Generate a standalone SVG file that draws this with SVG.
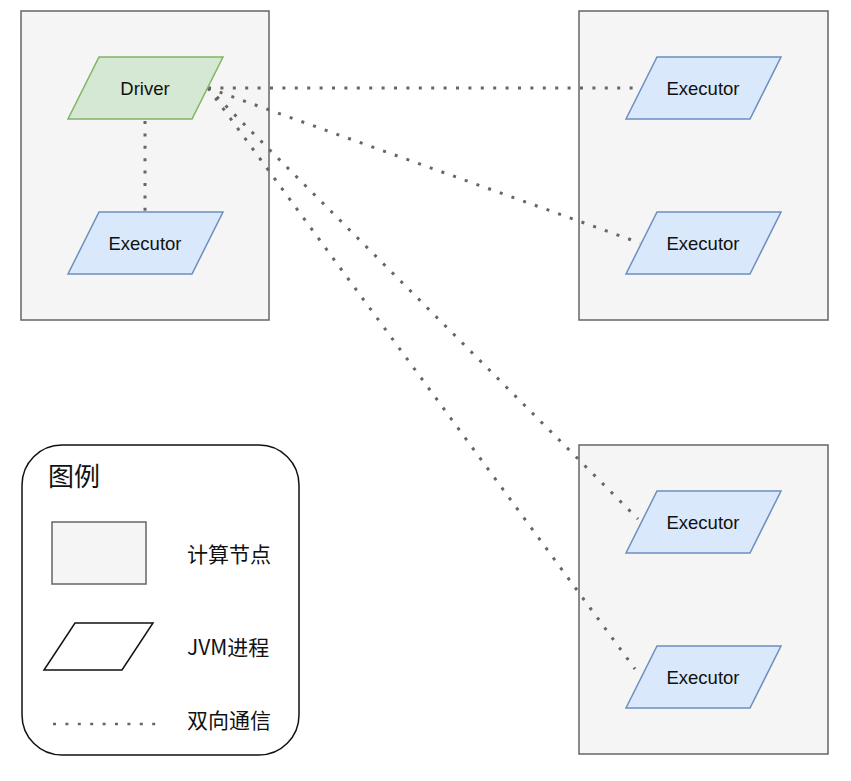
<svg xmlns="http://www.w3.org/2000/svg" width="851" height="781" viewBox="0 0 851 781">
<style>
.box{fill:#f5f5f5;stroke:#666;stroke-width:1.5}
.drv{fill:#d5e8d4;stroke:#82b366;stroke-width:1.5}
.exe{fill:#dae8fc;stroke:#6c8ebf;stroke-width:1.5}
.lbl{font-family:"Liberation Sans",Arial,sans-serif;font-size:18.5px;fill:#111;text-anchor:middle}
.cn{font-family:"Noto Sans CJK SC","Noto Sans",sans-serif;fill:#111}
.dot{fill:none;stroke:#666;stroke-width:3;stroke-dasharray:3 9.4}
</style>
<rect width="851" height="781" fill="#fff"/>
<g id="node1"><rect class="box" x="21" y="11" width="248" height="309"/></g>
<g id="node2"><rect class="box" x="579" y="11" width="249" height="309"/></g>
<g id="node3"><rect class="box" x="579" y="445" width="249" height="309"/></g>
<g id="connectors">
<line class="dot" x1="145" y1="121" x2="145" y2="211"/>
<line class="dot" x1="208" y1="88" x2="641" y2="88"/>
<line class="dot" x1="208" y1="88" x2="640" y2="243"/>
<line class="dot" x1="208" y1="88" x2="638" y2="519"/>
<line class="dot" x1="208" y1="88" x2="635" y2="669"/>
</g>
<g id="driver"><polygon class="drv" points="99,57 223,57 192,119 68,119"/><text class="lbl" x="145" y="95">Driver</text></g>
<g id="exec0"><polygon class="exe" points="99,212 223,212 192,274 68,274"/><text class="lbl" x="145" y="250">Executor</text></g>
<g id="exec1"><polygon class="exe" points="657,57 781,57 750,119 626,119"/><text class="lbl" x="703" y="95">Executor</text></g>
<g id="exec2"><polygon class="exe" points="657,212 781,212 750,274 626,274"/><text class="lbl" x="703" y="250">Executor</text></g>
<g id="exec3"><polygon class="exe" points="657,491 781,491 750,553 626,553"/><text class="lbl" x="703" y="529">Executor</text></g>
<g id="exec4"><polygon class="exe" points="657,646 781,646 750,708 626,708"/><text class="lbl" x="703" y="684">Executor</text></g>
<g id="legend">
<rect x="22" y="445" width="277" height="310" rx="40" ry="40" fill="#fff" stroke="#111" stroke-width="1.5"/>
<text class="cn" x="48" y="486" font-size="26">图例</text>
<rect class="box" x="52" y="522" width="94" height="62"/>
<text class="cn" x="187" y="562" font-size="21">计算节点</text>
<polygon points="75,623 153,623 122,670 44,670" fill="#fff" stroke="#111" stroke-width="1.5"/>
<text class="cn" x="187" y="655" font-size="21">JVM进程</text>
<line class="dot" x1="53" y1="724" x2="156" y2="724" style="stroke-width:2.5"/>
<text class="cn" x="187" y="728" font-size="21">双向通信</text>
</g>
</svg>
